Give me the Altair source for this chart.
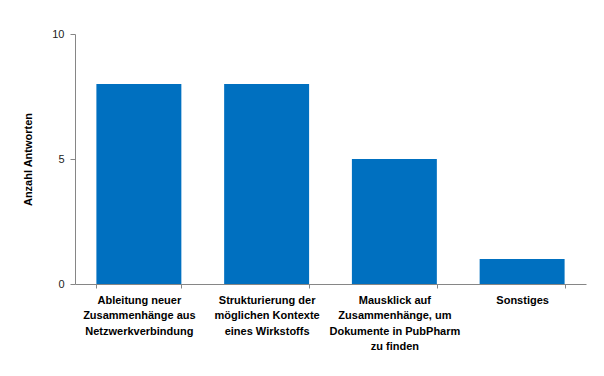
import altair as alt
import pandas as pd

categories = [
    "Ableitung neuer|Zusammenhänge aus|Netzwerkverbindung",
    "Strukturierung der|möglichen Kontexte|eines Wirkstoffs",
    "Mausklick auf|Zusammenhänge, um|Dokumente in PubPharm|zu finden",
    "Sonstiges",
]
values = [8, 8, 5, 1]
y_ticks = [0, 5, 10]

df = pd.DataFrame({"cat": categories, "val": values})

chart = alt.Chart(df).mark_bar(color="#0070C0").encode(
    x=alt.X(
        "cat:N",
        sort=categories,
        title=None,
        scale=alt.Scale(paddingInner=0.335, paddingOuter=0.1675),
        axis=alt.Axis(
            labelAngle=0,
            labelExpr="split(datum.label, '|')",
            labelFont="Liberation Sans",
            labelFontSize=11,
            labelFontWeight="bold",
            labelColor="#000000",
            labelLineHeight=15.5,
            labelPadding=6,
            labelBaseline="top",
            domainColor="#868686",
            tickColor="#868686",
            tickBand="extent",
            tickSize=4,
            labelLimit=200,
        ),
    ),
    y=alt.Y(
        "val:Q",
        title="Anzahl Antworten",
        scale=alt.Scale(domain=[0, 10], nice=False),
        axis=alt.Axis(
            values=y_ticks,
            grid=False,
            labelFont="Liberation Sans",
            labelFontSize=11,
            labelColor="#222222",
            labelPadding=6,
            domainColor="#868686",
            tickColor="#868686",
            tickSize=5,
            titleFont="Liberation Sans",
            titleFontSize=11,
            titleFontWeight="bold",
            titleColor="#000000",
            titlePadding=18,
        ),
    ),
).properties(
    width=511,
    height=250,
    background="#ffffff",
    autosize=alt.AutoSizeParams(type="none"),
    padding={"left": 75, "top": 34, "right": 18, "bottom": 92},
).configure_view(stroke=None)

chart.save("out.html", embed_options={"renderer": "svg", "actions": False})
